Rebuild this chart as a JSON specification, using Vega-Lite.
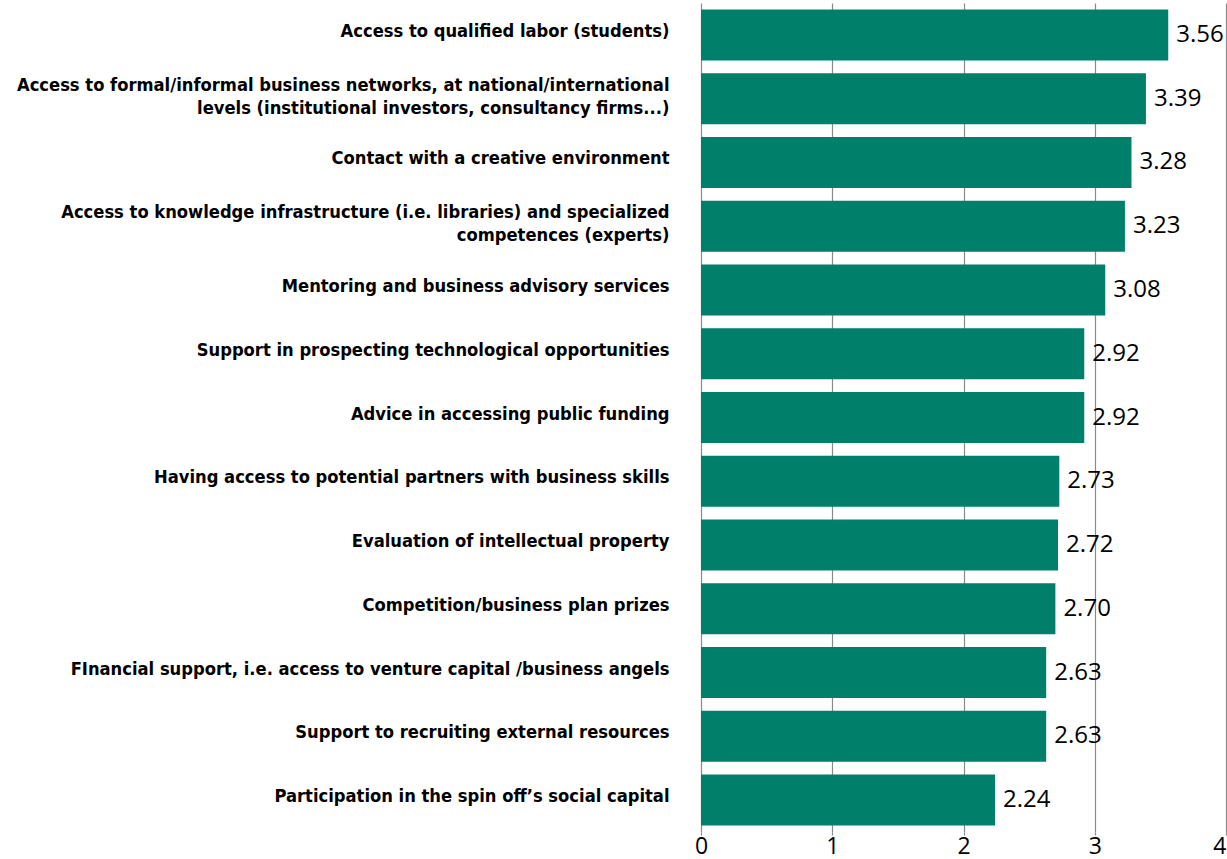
{
  "$schema": "https://vega.github.io/schema/vega-lite/v6.json",
  "autosize": "none",
  "padding": {"left": 701, "top": 3, "right": 1, "bottom": 27},
  "width": 525,
  "height": 829,
  "background": "white",
  "data": {"values": [
    {"rank": 1, "label": "Access to qualified labor (students)", "value": 3.56},
    {"rank": 2, "label": "Access to formal/informal business networks, at national/international|levels (institutional investors, consultancy firms...)", "value": 3.39},
    {"rank": 3, "label": "Contact with a creative environment", "value": 3.28},
    {"rank": 4, "label": "Access to knowledge infrastructure (i.e. libraries) and specialized|competences (experts)", "value": 3.23},
    {"rank": 5, "label": "Mentoring and business advisory services", "value": 3.08},
    {"rank": 6, "label": "Support in prospecting technological opportunities", "value": 2.92},
    {"rank": 7, "label": "Advice in accessing public funding", "value": 2.92},
    {"rank": 8, "label": "Having access to potential partners with business skills", "value": 2.73},
    {"rank": 9, "label": "Evaluation  of intellectual property", "value": 2.72},
    {"rank": 10, "label": "Competition/business plan prizes", "value": 2.70},
    {"rank": 11, "label": "FInancial support, i.e. access to venture capital /business angels", "value": 2.63},
    {"rank": 12, "label": "Support to recruiting external resources", "value": 2.63},
    {"rank": 13, "label": "Participation in the spin off’s social capital", "value": 2.24}
  ]},
  "encoding": {
    "y": {
      "field": "label", "type": "nominal",
      "sort": {"field": "rank", "op": "min", "order": "ascending"},
      "scale": {"paddingInner": 0.2, "paddingOuter": 0.1},
      "axis": {
        "title": null, "domain": false, "ticks": false,
        "labelExpr": "split(datum.label, '|')",
        "labelFont": "DejaVu Sans Condensed, Roboto, sans-serif", "labelFontWeight": "bold",
        "labelFontSize": 18.2, "labelLineHeight": 23, "labelColor": "#000000",
        "labelPadding": 32, "labelLimit": 0, "labelAlign": "right", "labelBaseline": "middle",
        "labelOffset": {"condition": {"test": "indexof(datum.value, '|') >= 0", "value": -13}, "value": -3}
      }
    },
    "x": {
      "field": "value", "type": "quantitative",
      "scale": {"domain": [0, 4], "nice": false, "zero": true},
      "axis": {
        "title": null, "values": [0, 1, 2, 3, 4], "domain": false,
        "grid": true, "gridColor": "#8a8a8a", "gridWidth": 1.2,
        "ticks": true, "tickColor": "#8a8a8a", "tickSize": 3, "tickWidth": 1.2,
        "labelFont": "Open Sans", "labelFontSize": 23, "labelColor": "#000000",
        "labelAlign": {"condition": {"test": "datum.value == 4", "value": "right"}, "value": "center"},
        "labelBaseline": "alphabetic", "labelPadding": 18, "labelFlush": false, "labelOverlap": false
      }
    }
  },
  "layer": [
    {"mark": {"type": "bar", "color": "#00806a"}},
    {
      "mark": {"type": "text", "align": "left", "baseline": "middle", "dx": 8, "font": "Open Sans", "fontSize": 24, "color": "#000000"},
      "encoding": {"text": {"field": "value", "type": "quantitative", "format": ".2f"}}
    }
  ],
  "config": {"view": {"stroke": null}}
}
